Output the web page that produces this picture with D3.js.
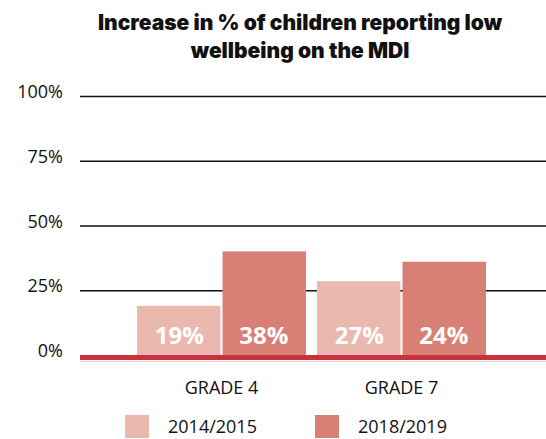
<!DOCTYPE html>
<html lang="en">
<head>
<meta charset="UTF-8">
<title>Low wellbeing on the MDI</title>
<script src="https://d3js.org/d3.v7.min.js"></script>
<style>
  body { margin: 0; background: #fff; }
  .title { font-family: Inter, "Noto Sans", sans-serif; font-weight: 900; font-size: 21px; fill: #111; }
  .tick-label, .cat-label, .legend-label { font-family: "Open Sans", "Noto Sans", sans-serif; fill: #111; }
  .bar-label { font-family: "Open Sans", "Noto Sans", sans-serif; font-weight: 700; font-size: 24px; fill: #fff; }
</style>
</head>
<body>
<svg width="546" height="439"></svg>
<script>
var grades = ["GRADE 4", "GRADE 7"];
var years = ["2014/2015", "2018/2019"];
// bar heights (%)
var values2014 = [19, 28.5];
var values2018 = [40, 36];
// labels printed on the bars
var labels2014 = ["19%", "27%"];
var labels2018 = ["38%", "24%"];
var yTicks = [0, 25, 50, 75, 100];
var colors = ["#ebb8b0", "#d98076"];

var svg = d3.select("svg");

var y = d3.scaleLinear().domain([0, 100]).range([355, 96]);
var x = d3.scaleBand().domain(grades).range([137, 486]).paddingInner(0.061).paddingOuter(0);
var xs = d3.scaleBand().domain(years).range([0, x.bandwidth()]);

// title
svg.append("text").attr("class", "title").attr("x", 300).attr("y", 30)
  .attr("text-anchor", "middle").text("Increase in % of children reporting low");
svg.append("text").attr("class", "title").attr("x", 300).attr("y", 58)
  .attr("text-anchor", "middle").text("wellbeing on the MDI");

// grid lines + tick labels
var grid = svg.append("g");
grid.selectAll("line").data(yTicks.filter(function(d){ return d > 0; })).enter()
  .append("line")
  .attr("x1", 80).attr("x2", 546)
  .attr("y1", function(d){ return y(d) + 0.5; })
  .attr("y2", function(d){ return y(d) + 0.5; })
  .attr("stroke", "#111").attr("stroke-width", 1.6);

grid.selectAll("text").data(yTicks).enter()
  .append("text").attr("class", "tick-label")
  .attr("x", 63).attr("y", function(d){ return y(d) + 2; })
  .attr("text-anchor", "end").attr("font-size", 18)
  .text(function(d){ return d + "%"; });

// bars
var rows = grades.map(function(g, i){
  return [
    {grade: g, year: years[0], v: values2014[i], label: labels2014[i], c: colors[0]},
    {grade: g, year: years[1], v: values2018[i], label: labels2018[i], c: colors[1]}
  ];
});

var groups = svg.append("g").selectAll("g").data(rows).enter()
  .append("g").attr("transform", function(d){ return "translate(" + x(d[0].grade) + ",0)"; });

groups.selectAll("rect").data(function(d){ return d; }).enter()
  .append("rect")
  .attr("x", function(d){ return xs(d.year) + (d.year === years[1] ? 1 : 0); })
  .attr("width", xs.bandwidth() - 1)
  .attr("y", function(d){ return y(d.v); })
  .attr("height", function(d){ return y(0) - y(d.v); })
  .attr("fill", function(d){ return d.c; });

groups.selectAll("text").data(function(d){ return d; }).enter()
  .append("text").attr("class", "bar-label")
  .attr("x", function(d){ return xs(d.year) + xs.bandwidth() / 2; })
  .attr("y", 344)
  .attr("text-anchor", "middle")
  .text(function(d){ return d.label; });

// red baseline
svg.append("rect").attr("x", 80).attr("width", 466).attr("y", y(0)).attr("height", 5).attr("fill", "#c8323f");
svg.append("line").attr("x1", 80).attr("x2", 546).attr("y1", y(0) + 6.5).attr("y2", y(0) + 6.5)
  .attr("stroke", "#f3d3d5").attr("stroke-width", 1);

// category labels
svg.append("g").selectAll("text").data(grades).enter()
  .append("text").attr("class", "cat-label")
  .attr("x", function(d){ return x(d) + x.bandwidth() / 2; })
  .attr("y", 394).attr("text-anchor", "middle").attr("font-size", 18)
  .text(function(d){ return d; });

// legend
var legendX = [125, 315];
var legend = svg.append("g").selectAll("g").data(years).enter()
  .append("g").attr("transform", function(d, i){ return "translate(" + legendX[i] + ",415)"; });
legend.append("rect").attr("width", 24).attr("height", 23)
  .attr("fill", function(d, i){ return colors[i]; });
legend.append("text").attr("class", "legend-label")
  .attr("x", 43).attr("y", 18).attr("font-size", 18)
  .text(function(d){ return d; });
</script>
</body>
</html>
